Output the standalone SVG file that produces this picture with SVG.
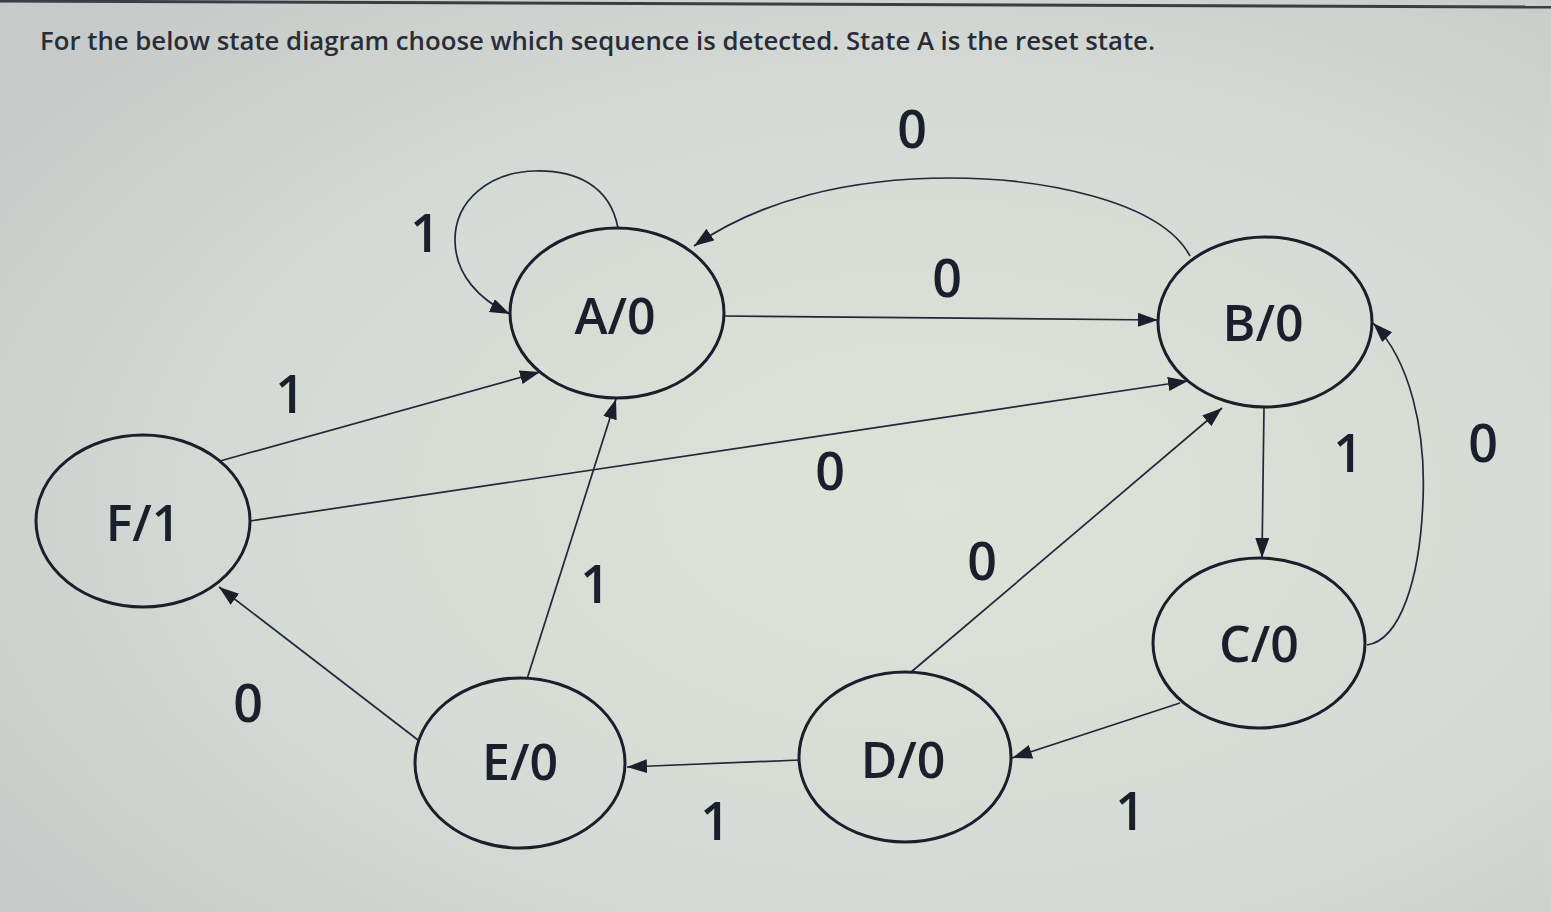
<svg xmlns="http://www.w3.org/2000/svg" width="1551" height="912" viewBox="0 0 1551 912">
<style>
.node{fill:none;stroke:#1b1e2b;stroke-width:3}
.edge{fill:none;stroke:#22283a;stroke-width:1.7}
.nl{font-family:"Open Sans","Liberation Sans",sans-serif;font-size:50px;font-weight:600;fill:#1b1e2b;text-anchor:middle}
.el{font-family:"Open Sans","Liberation Sans",sans-serif;font-size:52px;font-weight:600;fill:#1b1e2b;text-anchor:middle}
.title{font-family:"Open Sans","Liberation Sans",sans-serif;font-size:25px;font-weight:600;fill:#2a2d38}
</style>
<defs>
<radialGradient id="bg" cx="0.6" cy="0.55" r="0.75">
<stop offset="0" stop-color="#dfe2d8"/>
<stop offset="0.6" stop-color="#d6dad5"/>
<stop offset="1" stop-color="#c6cac8"/>
</radialGradient>
<marker id="arr" markerUnits="userSpaceOnUse" markerWidth="22" markerHeight="16" refX="20" refY="7" orient="auto">
<path d="M0,0 L20,7 L0,14 z" fill="#1b1e2b"/>
</marker>
</defs>
<rect width="1551" height="912" fill="url(#bg)"/>
<path d="M0,1 L1551,7" stroke="#3a3d42" stroke-width="3" fill="none"/>
<text class="title" x="40" y="50" textLength="1115" lengthAdjust="spacingAndGlyphs">For the below state diagram choose which sequence is detected. State A is the reset state.</text>

<g id="connectors">
<path class="edge" d="M618,228 C610,185 575,170 535,171 C490,172 455,200 455,240 C455,275 480,300 510,314" marker-end="url(#arr)"/>
<path class="edge" d="M1190,256 C1160,200 1040,178 950,178 C850,178 760,200 694,246" marker-end="url(#arr)"/>
<path class="edge" d="M723,316 L1158,320" marker-end="url(#arr)"/>
<path class="edge" d="M220,461 L540,372" marker-end="url(#arr)"/>
<path class="edge" d="M250,521 L1188,381" marker-end="url(#arr)"/>
<path class="edge" d="M527,679 L616,399" marker-end="url(#arr)"/>
<path class="edge" d="M910,673 L1222,408" marker-end="url(#arr)"/>
<path class="edge" d="M1264,407 L1262,558" marker-end="url(#arr)"/>
<path class="edge" d="M1367,645 C1400,640 1420,580 1423,500 C1426,430 1410,360 1373,323" marker-end="url(#arr)"/>
<path class="edge" d="M1180,703 L1012,758" marker-end="url(#arr)"/>
<path class="edge" d="M800,760 L627,767" marker-end="url(#arr)"/>
<path class="edge" d="M418,740 L219,587" marker-end="url(#arr)"/>
<text class="el" x="912" y="148">0</text>
<text class="el" x="425" y="252">1</text>
<text class="el" x="947" y="297">0</text>
<text class="el" x="290" y="413">1</text>
<text class="el" x="830" y="490">0</text>
<text class="el" x="1348" y="472">1</text>
<text class="el" x="1483" y="462">0</text>
<text class="el" x="982" y="580">0</text>
<text class="el" x="595" y="603">1</text>
<text class="el" x="248" y="722">0</text>
<text class="el" x="715" y="840">1</text>
<text class="el" x="1130" y="830">1</text>
</g>

<g id="nodeA"><ellipse class="node" cx="617" cy="313" rx="107" ry="85"/><text class="nl" x="615" y="334">A/0</text></g>
<g id="nodeB"><ellipse class="node" cx="1265" cy="322" rx="107" ry="85"/><text class="nl" x="1263" y="341">B/0</text></g>
<g id="nodeC"><ellipse class="node" cx="1259" cy="643" rx="106" ry="85"/><text class="nl" x="1259" y="662">C/0</text></g>
<g id="nodeD"><ellipse class="node" cx="905" cy="757" rx="106" ry="85"/><text class="nl" x="903" y="778">D/0</text></g>
<g id="nodeE"><ellipse class="node" cx="520" cy="763" rx="105" ry="85"/><text class="nl" x="520" y="780">E/0</text></g>
<g id="nodeF"><ellipse class="node" cx="143" cy="521" rx="107" ry="86"/><text class="nl" x="143" y="541">F/1</text></g>
</svg>
